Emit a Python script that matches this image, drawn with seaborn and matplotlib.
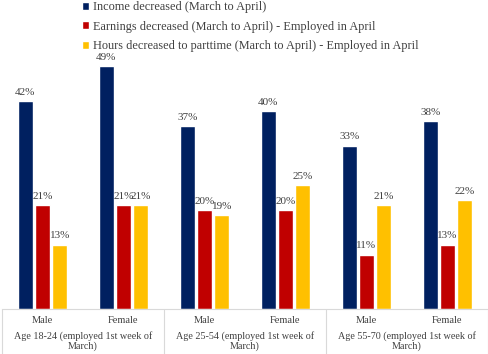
import pandas as pd
import matplotlib.pyplot as plt
import seaborn as sns

# categories and series
genders = ['Male', 'Female', 'Male', 'Female', 'Male', 'Female']
age_groups = ['Age 18-24 (employed 1st week of\nMarch)',
              'Age 25-54 (employed 1st week of\nMarch)',
              'Age 55-70 (employed 1st week of\nMarch)']
series = ['Income decreased (March to April)',
          'Earnings decreased (March to April) - Employed in April',
          'Hours decreased to parttime (March to April) - Employed in April']
income = [42, 49, 37, 40, 33, 38]
earnings = [21, 21, 20, 20, 11, 13]
hours = [13, 21, 19, 25, 21, 22]

colors = ['#002060', '#C00000', '#FFC000']
txt = '#404040'

cats = [f'{g}{i}' for i, g in enumerate(genders)]
rows = []
for s, vals in zip(series, [income, earnings, hours]):
    for c, v in zip(cats, vals):
        rows.append({'cat': c, 'series': s, 'value': v})
df = pd.DataFrame(rows)

sns.set_style('white')
plt.rcParams['font.family'] = ['Liberation Serif', 'DejaVu Serif']

W, H = 489, 354
fig = plt.figure(figsize=(W / 100, H / 100), dpi=100)
base = 309
ax = fig.add_axes([2 / W, 1 - base / H, 486 / W, base / H])

sns.barplot(data=df, x='cat', y='value', hue='series', order=cats,
            hue_order=series, palette=colors, width=0.64, gap=0.12,
            saturation=1, ax=ax, legend=True)

for cont in ax.containers:
    ax.bar_label(cont, labels=[f'{v:.0f}%' for v in cont.datavalues],
                 padding=3, fontsize=8, color=txt)

ax.set_xlim(-0.5, 5.5)
ax.set_ylim(0, base / 4.95)
ax.set_xlabel('')
ax.set_ylabel('')
ax.set_yticks([])
ax.set_xticks(range(6))
ax.set_xticklabels(genders, fontsize=7.5, color=txt)
ax.tick_params(axis='x', length=0, pad=5)
for side in ['top', 'left', 'right']:
    ax.spines[side].set_visible(False)
ax.spines['bottom'].set_color('#d9d9d9')

# group separators and group labels
for xs in [-0.5, 1.5, 3.5, 5.5]:
    ax.plot([xs, xs], [0, -45 / 4.95], color='#d9d9d9', lw=0.8, clip_on=False)
for i, lab in enumerate(age_groups):
    ax.text(2 * i + 0.5, -22 / 4.95, lab, ha='center', va='top',
            fontsize=7.3, color=txt, linespacing=1.1)

handles, labels = ax.get_legend_handles_labels()
ax.get_legend().remove()
fig.legend(handles, labels, loc='upper left', bbox_to_anchor=(0.145, 1.028),
           frameon=False, fontsize=8.8, handlelength=0.6, handleheight=0.6,
           handletextpad=0.3, labelspacing=0.62, labelcolor=txt)

fig.savefig('out.png', dpi=100)
